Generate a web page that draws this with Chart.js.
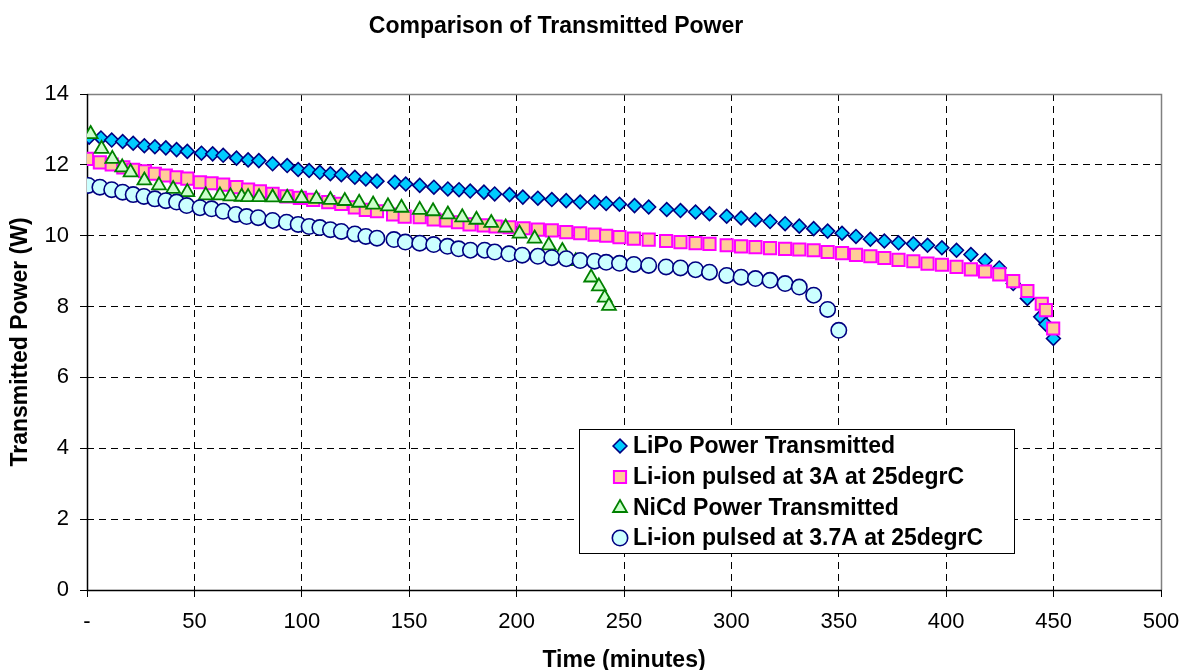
<!DOCTYPE html>
<html>
<head>
<meta charset="utf-8">
<title>Comparison of Transmitted Power</title>
<script src="https://cdn.jsdelivr.net/npm/chart.js@4/dist/chart.umd.min.js"></script>
<style>
  html, body { margin: 0; padding: 0; background: #ffffff; }
  #wrap { width: 1183px; height: 670px; }
</style>
</head>
<body>
<div id="wrap"><canvas id="chart" width="1183" height="670"></canvas></div>
<script>
// ---- Data -------------------------------------------------------------
const chartTitle = 'Comparison of Transmitted Power';
const xAxisTitle = 'Time (minutes)';
const yAxisTitle = 'Transmitted Power (W)';

const seriesNames = [
  'LiPo Power Transmitted',
  'Li-ion pulsed at 3A at 25degrC',
  'NiCd Power Transmitted',
  'Li-ion pulsed at 3.7A at 25degrC'
];

// LiPo
const lipoTime = [1, 6.5, 11.5, 16.6, 21.5, 26.7, 31.6, 36.7, 41.7, 46.7, 53.3, 58.5, 63.4, 69.6, 75, 80, 86.4, 93.2, 98.3, 103.4,
  108.4, 113.3, 118.4, 124.7, 129.8, 135, 143.3, 148.4, 154.9, 161.5, 168, 173.2, 178.4, 184.8, 189.8, 196.7, 202.9, 209.9, 216.4, 223.1,
  229.6, 236.3, 241.7, 247.9, 254.9, 261.5, 269.9, 276.3, 283.3, 289.8, 297.8, 304.5, 311.2, 318, 325, 331.6, 338.3, 344.8, 351.5, 358,
  364.7, 371.2, 377.8, 384.7, 391.3, 398, 404.8, 411.5, 418.1, 424.7, 431.2, 437.8, 444, 446.4, 449.9];
const lipoPower = [12.78, 12.76, 12.70, 12.66, 12.61, 12.54, 12.51, 12.48, 12.43, 12.38, 12.33, 12.31, 12.27, 12.19, 12.14, 12.12, 12.03, 11.98, 11.87, 11.84,
  11.79, 11.75, 11.72, 11.65, 11.60, 11.54, 11.51, 11.46, 11.42, 11.37, 11.32, 11.30, 11.26, 11.23, 11.18, 11.16, 11.09, 11.06, 11.02, 10.99,
  10.95, 10.95, 10.91, 10.89, 10.85, 10.81, 10.74, 10.71, 10.67, 10.62, 10.55, 10.50, 10.45, 10.40, 10.34, 10.27, 10.20, 10.13, 10.07, 9.98,
  9.90, 9.85, 9.80, 9.77, 9.73, 9.66, 9.59, 9.47, 9.30, 9.09, 8.65, 8.23, 7.71, 7.50, 7.10];

// Li-ion, 3 A pulses
const liion3Time = [0, 6, 11.5, 16.9, 21.5, 27, 31.6, 36.7, 41.7, 46.7, 52.6, 58, 63.4, 69.6, 75, 80.5, 86.4, 92.9, 99.1, 105.3,
  112.3, 118.4, 124.7, 129.8, 135, 142.5, 147.9, 154.9, 161.4, 167.3, 172.7, 178.1, 184.7, 190.2, 196.7, 203.3, 209.9, 216.4, 223.1, 229.6,
  236.3, 241.7, 247.9, 254.6, 261.5, 269.6, 276.3, 283.3, 289.8, 297.8, 304.5, 311.2, 318, 325, 331.6, 338.3, 344.8, 351.5, 358, 364.7,
  371.2, 377.8, 384.7, 391.3, 398, 404.8, 411.5, 418.1, 424.7, 431.2, 437.8, 444.5, 446.4, 449.8];
const liion3Power = [12.17, 12.07, 12.01, 11.93, 11.86, 11.82, 11.75, 11.70, 11.65, 11.61, 11.51, 11.48, 11.44, 11.37, 11.30, 11.25, 11.18, 11.11, 11.07, 11.01,
  10.95, 10.90, 10.80, 10.73, 10.69, 10.60, 10.54, 10.52, 10.46, 10.43, 10.38, 10.32, 10.29, 10.26, 10.24, 10.21, 10.17, 10.15, 10.10, 10.07,
  10.03, 10.00, 9.96, 9.92, 9.89, 9.85, 9.82, 9.79, 9.77, 9.73, 9.70, 9.68, 9.65, 9.63, 9.61, 9.59, 9.54, 9.51, 9.46, 9.42,
  9.37, 9.32, 9.28, 9.21, 9.18, 9.12, 9.05, 8.99, 8.91, 8.72, 8.44, 8.08, 7.90, 7.38];

// NiCd
const nicdTime = [1.7, 6.8, 11.8, 16.4, 20.3, 26.7, 33.5, 40.1, 46.7, 55.3, 61.9, 66.8, 72, 75, 80.1, 86.4, 93.2, 99.9, 106.8, 113.3,
  120, 126.7, 133.2, 140.1, 146.4, 154.9, 161.1, 168, 174.7, 181.3, 188.2, 194.9, 201.4, 208.4, 215, 221.3, 227.5, 234.7, 238.3, 241, 243];
const nicdPower = [12.87, 12.45, 12.17, 11.93, 11.79, 11.56, 11.42, 11.32, 11.23, 11.14, 11.14, 11.11, 11.10, 11.09, 11.09, 11.08, 11.07, 11.06, 11.04, 11.01,
  10.98, 10.93, 10.88, 10.83, 10.79, 10.73, 10.69, 10.60, 10.52, 10.45, 10.36, 10.23, 10.06, 9.92, 9.73, 9.57, 9.28, 8.82, 8.57, 8.25, 8.02];

// Li-ion, 3.7 A pulses
const liion37Time = [0.6, 6, 11.5, 16.6, 21.5, 26.5, 31.6, 36.7, 41.7, 46.4, 52.6, 58, 63.4, 69.3, 74.3, 79.7, 86.4, 92.9, 98.3, 103.4,
  108.4, 113.3, 118.4, 124.7, 129.8, 135, 142.9, 148.2, 154.9, 161.4, 167.8, 173, 178.5, 185.1, 189.8, 196.4, 202.6, 209.9, 216.4, 223.1,
  229.6, 236.3, 241.7, 247.9, 254.6, 261.5, 269.6, 276.3, 283.3, 289.8, 297.8, 304.5, 311.2, 318, 325, 331.6, 338.3, 344.8, 350];
const liion37Power = [11.42, 11.37, 11.30, 11.23, 11.16, 11.11, 11.04, 10.99, 10.95, 10.85, 10.79, 10.76, 10.69, 10.60, 10.54, 10.51, 10.43, 10.38, 10.32, 10.26,
  10.23, 10.17, 10.12, 10.05, 9.98, 9.93, 9.89, 9.82, 9.79, 9.75, 9.70, 9.63, 9.59, 9.59, 9.54, 9.49, 9.45, 9.42, 9.38, 9.35,
  9.30, 9.28, 9.25, 9.22, 9.19, 9.16, 9.12, 9.09, 9.04, 8.97, 8.88, 8.83, 8.79, 8.74, 8.65, 8.55, 8.32, 7.92, 7.33];

// Axis ticks
const xTickValues = [0, 50, 100, 150, 200, 250, 300, 350, 400, 450, 500];
const xTickLabels = ['-', '50', '100', '150', '200', '250', '300', '350', '400', '450', '500'];
const yTickValues = [0, 2, 4, 6, 8, 10, 12, 14];

// ---- Helpers ------------------------------------------------------------
const FONT = '"Liberation Sans", Arial, Helvetica, sans-serif';
const pairUp = (xs, ys) => xs.map((x, i) => ({ x: x, y: ys[i] }));

const markerStyles = [
  { pointStyle: 'rectRot',  radius: 6.9, backgroundColor: '#00CCFF', borderColor: '#000080', borderWidth: 1.6 },
  { pointStyle: 'rect',     radius: 8.6, backgroundColor: '#FFCC99', borderColor: '#FF00FF', borderWidth: 2 },
  { pointStyle: 'triangle', radius: 8.0, backgroundColor: '#CCFFCC', borderColor: '#008000', borderWidth: 1.8 },
  { pointStyle: 'circle',   radius: 7.7, backgroundColor: '#CCFFFF', borderColor: '#000080', borderWidth: 1.6 }
];

const seriesData = [
  pairUp(lipoTime, lipoPower),
  pairUp(liion3Time, liion3Power),
  pairUp(nicdTime, nicdPower),
  pairUp(liion37Time, liion37Power)
];

// later series are drawn over earlier ones
const drawOrder = [4, 3, 2, 1];

const datasets = seriesNames.map((name, i) => ({
  label: name,
  data: seriesData[i],
  showLine: false,
  order: drawOrder[i],
  pointStyle: markerStyles[i].pointStyle,
  pointRadius: markerStyles[i].radius,
  pointHoverRadius: markerStyles[i].radius,
  pointBackgroundColor: markerStyles[i].backgroundColor,
  pointBorderColor: markerStyles[i].borderColor,
  pointBorderWidth: markerStyles[i].borderWidth,
  backgroundColor: markerStyles[i].backgroundColor,
  borderColor: markerStyles[i].borderColor
}));

// draws one marker, same geometry as the chart points
function drawMarker(ctx, style, x, y) {
  ctx.save();
  ctx.fillStyle = style.backgroundColor;
  ctx.strokeStyle = style.borderColor;
  ctx.lineWidth = style.borderWidth;
  if (Chart.helpers && Chart.helpers.drawPoint) {
    Chart.helpers.drawPoint(ctx, { pointStyle: style.pointStyle, radius: style.radius, borderWidth: style.borderWidth, rotation: 0 }, x, y);
  } else {
    ctx.beginPath();
    ctx.arc(x, y, style.radius, 0, Math.PI * 2);
    ctx.fill();
    ctx.stroke();
  }
  ctx.restore();
}

// ---- Plugins ------------------------------------------------------------
const frameAndText = {
  id: 'frameAndText',
  beforeDatasetsDraw(chart) {
    const { ctx, chartArea: a } = chart;
    ctx.save();
    // grey frame on top and right
    ctx.strokeStyle = '#808080';
    ctx.lineWidth = 1.5;
    ctx.beginPath();
    ctx.moveTo(a.left, a.top + 0.5);
    ctx.lineTo(a.right + 0.5, a.top + 0.5);
    ctx.lineTo(a.right + 0.5, a.bottom);
    ctx.stroke();
    // solid black axis lines
    ctx.strokeStyle = '#000000';
    ctx.lineWidth = 1.5;
    ctx.beginPath();
    ctx.moveTo(a.left + 0.5, a.top);
    ctx.lineTo(a.left + 0.5, a.bottom + 0.5);
    ctx.lineTo(a.right + 0.5, a.bottom + 0.5);
    ctx.stroke();
    ctx.restore();
  },
  afterDraw(chart) {
    const ctx = chart.ctx;
    // title
    ctx.save();
    ctx.fillStyle = '#000000';
    ctx.font = 'bold 23px ' + FONT;
    ctx.textAlign = 'center';
    ctx.textBaseline = 'middle';
    ctx.fillText(chartTitle, 556, 27);
    ctx.restore();

    // legend box
    const box = { left: 579.5, top: 429.5, right: 1014.5, bottom: 553.5 };
    ctx.save();
    ctx.fillStyle = '#ffffff';
    ctx.fillRect(box.left, box.top, box.right - box.left, box.bottom - box.top);
    ctx.strokeStyle = '#000000';
    ctx.lineWidth = 1;
    ctx.strokeRect(box.left, box.top, box.right - box.left, box.bottom - box.top);
    const rowY = [446, 477, 508, 538];
    ctx.font = 'bold 23px ' + FONT;
    ctx.textAlign = 'left';
    ctx.textBaseline = 'middle';
    seriesNames.forEach((name, i) => {
      drawMarker(ctx, markerStyles[i], 620, rowY[i]);
      ctx.fillStyle = '#000000';
      ctx.fillText(name, 633, rowY[i] + 1);
    });
    ctx.restore();
  }
};

// ---- Chart --------------------------------------------------------------
new Chart(document.getElementById('chart'), {
  type: 'scatter',
  data: { datasets: datasets },
  plugins: [frameAndText],
  options: {
    responsive: false,
    animation: false,
    devicePixelRatio: 1,
    layout: { padding: { top: 94, right: 22, bottom: 0, left: 0 } },
    plugins: {
      legend: { display: false },
      title: { display: false },
      tooltip: { enabled: false }
    },
    scales: {
      x: {
        type: 'linear',
        min: 0,
        max: 500,
        afterFit(scale) {
          scale.height = 80;
          scale.paddingLeft = 0;
          scale.paddingRight = 0;
        },
        afterBuildTicks(scale) { scale.ticks = xTickValues.map(v => ({ value: v })); },
        ticks: {
          color: '#000000',
          font: { family: FONT, size: 22 },
          padding: 12,
          maxRotation: 0,
          autoSkip: false,
          callback(value) {
            const i = xTickValues.indexOf(value);
            return i >= 0 ? xTickLabels[i] : '';
          }
        },
        grid: {
          color: '#000000',
          lineWidth: 1,
          tickLength: 7,
          tickColor: '#000000',
          tickBorderDash: [],
          drawTicks: true
        },
        border: { display: false, dash: [7, 5] },
        title: {
          display: true,
          text: xAxisTitle,
          color: '#000000',
          font: { family: FONT, size: 23, weight: 'bold', lineHeight: 0.85 },
          padding: { top: 0, bottom: 0 }
        }
      },
      y: {
        type: 'linear',
        min: 0,
        max: 14,
        afterFit(scale) {
          scale.width = 87;
          scale.paddingTop = 0;
          scale.paddingBottom = 0;
        },
        afterBuildTicks(scale) { scale.ticks = yTickValues.map(v => ({ value: v })); },
        ticks: {
          color: '#000000',
          font: { family: FONT, size: 22 },
          padding: 11,
          autoSkip: false
        },
        grid: {
          color: '#000000',
          lineWidth: 1,
          tickLength: 7,
          tickColor: '#000000',
          tickBorderDash: [],
          drawTicks: true
        },
        border: { display: false, dash: [7, 5] },
        title: {
          display: true,
          text: yAxisTitle,
          color: '#000000',
          font: { family: FONT, size: 23, weight: 'bold', lineHeight: 1 },
          padding: { top: 9, bottom: 0 }
        }
      }
    }
  }
});
</script>
</body>
</html>
